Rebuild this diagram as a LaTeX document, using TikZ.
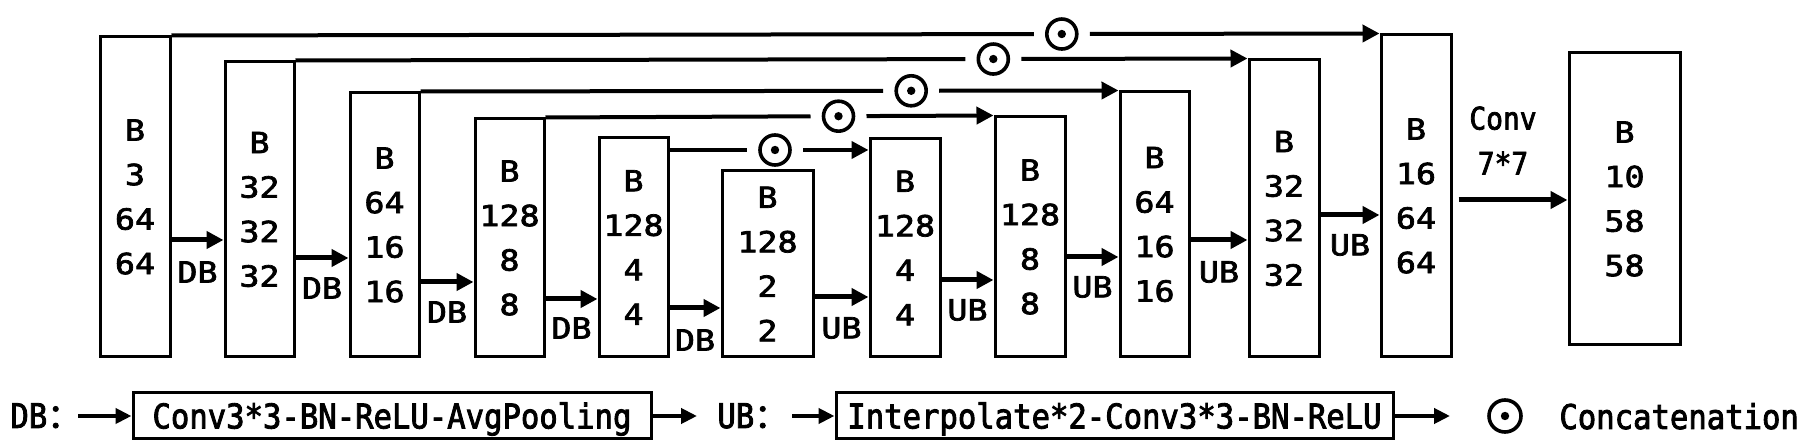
\documentclass[tikz,border=0pt]{standalone}
\usepackage{fontspec}
\newfontfamily\simfont[FakeStretch=0.9,FakeBold=2.5]{DejaVu Sans Mono}
\newfontfamily\boxfont[FakeStretch=1.15,FakeBold=2.5]{DejaVu Sans Mono}
\newfontfamily\cjkfont[FakeBold=2.5]{Noto Sans CJK SC}
\usetikzlibrary{arrows.meta}
\begin{document}
\begin{tikzpicture}[x=0.5pt,y=-0.5pt,
  blk/.style={draw, line width=1.5pt, rectangle, inner sep=0pt, align=center,
    font=\boxfont\fontsize{14.5}{22.25}\selectfont},
  arr/.style={line width=2.5pt, -{Triangle[length=8.5pt,width=8.5pt]}},
  skipln/.style={line width=2pt},
  skiparr/.style={line width=2pt, -{Triangle[length=8.5pt,width=8.5pt]}},
  lab/.style={font=\boxfont\fontsize{14.5}{18}\selectfont, inner sep=0pt},
  convlab/.style={font=\simfont\fontsize{15.5}{22.5}\selectfont, inner sep=0pt, align=center},
  cdot/.style={circle, draw, line width=1.8pt, minimum size=15pt, inner sep=0pt, outer sep=6.5pt,
    path picture={\fill (path picture bounding box.center) circle[radius=2.1pt];}},
  lbox/.style={draw, line width=1.5pt, rectangle, inner sep=0pt, minimum height=23pt,
    font=\simfont\fontsize{17}{20}\selectfont, text height=12.4pt, text depth=0pt},
  ltext/.style={anchor=base west, inner sep=0pt, font=\simfont\fontsize{17}{20}\selectfont},
  larr/.style={line width=2pt, -{Triangle[length=8pt,width=7.5pt]}}
]
\useasboundingbox (0,0) rectangle (1811,442);

% main blocks
\node[blk, minimum width=35pt,   minimum height=160pt]   (b1)  at (135,197)    {B\\3\\64\\64};
\node[blk, minimum width=34.5pt, minimum height=147.5pt] (b2)  at (259.5,209.5) {B\\32\\32\\32};
\node[blk, minimum width=34.5pt, minimum height=132pt]   (b3)  at (384.5,225)  {B\\64\\16\\16};
\node[blk, minimum width=34.5pt, minimum height=119pt]   (b4)  at (509.5,238)  {B\\128\\8\\8};
\node[blk, minimum width=34.5pt, minimum height=109.5pt] (b5)  at (633.5,247.5) {B\\128\\4\\4};
\node[blk, minimum width=45.5pt, minimum height=93pt]    (b6)  at (767.5,264)  {B\\128\\2\\2};
\node[blk, minimum width=35pt,   minimum height=109pt]   (b7)  at (905,248)    {B\\128\\4\\4};
\node[blk, minimum width=35pt,   minimum height=120pt]   (b8)  at (1030,237)   {B\\128\\8\\8};
\node[blk, minimum width=34.5pt, minimum height=132.5pt] (b9)  at (1154.5,224.5) {B\\64\\16\\16};
\node[blk, minimum width=35pt,   minimum height=148.5pt] (b10) at (1284,208.5) {B\\32\\32\\32};
\node[blk, minimum width=35pt,   minimum height=161pt]   (b11) at (1416,196)   {B\\16\\64\\64};
\node[blk, minimum width=55.5pt, minimum height=146pt]   (b12) at (1624.5,199) {B\\10\\58\\58};

% down / up arrows
\draw[arr] (b1.east |- 0,240) -- node[midway, lab, yshift=-16pt] {DB} (b2.west |- 0,240);
\draw[arr] (b2.east |- 0,258) -- node[midway, lab, yshift=-15pt] {DB} (b3.west |- 0,258);
\draw[arr] (b3.east |- 0,282) -- node[midway, lab, yshift=-15pt] {DB} (b4.west |- 0,282);
\draw[arr] (b4.east |- 0,299) -- node[midway, lab, yshift=-14.5pt] {DB} (b5.west |- 0,299);
\draw[arr] (b5.east |- 0,308) -- node[midway, lab, yshift=-16pt] {DB} (b6.west |- 0,308);
\draw[arr] (b6.east |- 0,297) -- node[midway, lab, yshift=-15.5pt] {UB} (b7.west |- 0,297);
\draw[arr] (b7.east |- 0,280) -- node[midway, lab, yshift=-15pt] {UB} (b8.west |- 0,280);
\draw[arr] (b8.east |- 0,257) -- node[midway, lab, yshift=-15pt] {UB} (b9.west |- 0,257);
\draw[arr] (b9.east |- 0,240) -- node[midway, lab, yshift=-16pt] {UB} (b10.west |- 0,240);
\draw[arr] (b10.east |- 0,215) -- node[midway, lab, yshift=-15pt] {UB} (b11.west |- 0,215);
\draw[arr, shorten <=3pt] (b11.east |- 0,200) -- node[midway, convlab, xshift=-3.5pt, yshift=29.75pt] {Conv\\7*7} (b12.west |- 0,200);

% skip connections
\path (b1.north east) -- node[cdot, pos=0.737] (c1) {} (b11.north west);
\path (b2.north east) -- node[cdot, pos=0.733] (c2) {} (b10.north west);
\path (b3.north east) -- node[cdot, pos=0.703] (c3) {} (b9.north west);
\path (b4.north east) -- node[cdot, pos=0.654] (c4) {} (b8.north west);
\node[cdot] (c5) at (775,150) {};
\draw[skipln] (b1.north east) -- (c1);  \draw[skiparr] (c1) -- (b11.north west);
\draw[skipln] (b2.north east) -- (c2);  \draw[skiparr] (c2) -- (b10.north west);
\draw[skipln] (b3.north east) -- (c3);  \draw[skiparr] (c3) -- (b9.north west);
\draw[skipln] (b4.north east) -- (c4);  \draw[skiparr] (c4) -- (b8.north west);
\draw[skipln] (b5.east |- c5) -- (c5);  \draw[skiparr] (c5) -- (b7.west |- c5);

% legend
\node[ltext] (ldb) at (10,428) {DB{\cjkfont ：}};
\coordinate (p1) at (78,416);
\node[lbox, minimum width=259pt] (lb1) at (392,416) {Conv3*3-BN-ReLU-AvgPooling};
\coordinate (p2) at (697,416);
\draw[larr] (p1) -- (lb1.west);
\draw[larr] (lb1.east) -- (p2);
\node[ltext] (lub) at (717,428) {UB{\cjkfont ：}};
\coordinate (p3) at (792,416);
\node[lbox, minimum width=278.5pt] (lb2) at (1114.5,416) {Interpolate*2-Conv3*3-BN-ReLU};
\coordinate (p4) at (1450,416);
\draw[larr] (p3) -- (lb2.west);
\draw[larr] (lb2.east) -- (p4);
\node[cdot, minimum size=16pt] (lc) at (1505,416) {};
\node[ltext] (lconc) at (1559,429) {Concatenation};
\end{tikzpicture}
\end{document}
